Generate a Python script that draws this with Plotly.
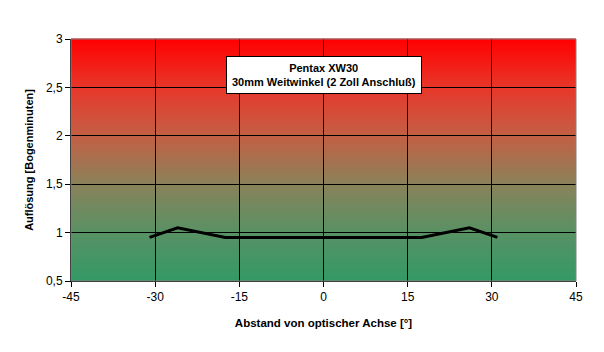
import plotly.graph_objects as go
import numpy as np

# Data
x_deg = [-31, -26, -17.5, 17.5, 26, 31]
resolution = [0.95, 1.05, 0.95, 0.95, 1.05, 0.95]
x_ticks = [-45, -30, -15, 0, 15, 30, 45]
x_ticktext = ["-45", "-30", "-15", "0", "15", "30", "45"]
y_ticks = [0.5, 1, 1.5, 2, 2.5, 3]
y_ticktext = ["0,5", "1", "1,5", "2", "2,5", "3"]

title_lines = ["Pentax XW30", "30mm Weitwinkel (2 Zoll Anschluß)"]
x_title = "Abstand von optischer Achse [°]"
y_title = "Auflösung [Bogenminuten]"

# background gradient stops (style): fraction from bottom -> rgb
stops = [
    (0.0, (51, 153, 102)),
    (0.2, (88, 145, 100)),
    (0.4, (138, 130, 90)),
    (0.6, (195, 95, 68)),
    (0.8, (232, 55, 42)),
    (1.0, (255, 0, 0)),
]

def grad_color(f):
    for (f0, c0), (f1, c1) in zip(stops[:-1], stops[1:]):
        if f0 <= f <= f1:
            t = (f - f0) / (f1 - f0)
            return "rgb(%d,%d,%d)" % tuple(round(a + (b - a) * t) for a, b in zip(c0, c1))
    return "rgb(%d,%d,%d)" % stops[-1][1]

fig = go.Figure()

n_strips = 121
for i in range(n_strips):
    y0 = i / n_strips
    y1 = (i + 1) / n_strips
    fig.add_shape(type="rect", xref="paper", yref="paper", x0=0, x1=1, y0=y0, y1=y1 + 0.002,
                  fillcolor=grad_color((y0 + y1) / 2), line=dict(width=0), layer="below")

fig.add_trace(go.Scatter(
    x=x_deg, y=resolution, mode="lines",
    line=dict(color="black", width=3), showlegend=False, hoverinfo="skip",
))

fig.add_shape(type="rect", xref="paper", yref="paper", x0=0, y0=0, x1=1, y1=1,
              line=dict(color="#808080", width=1), layer="above")

fig.add_annotation(
    x=0, y=2.63, xref="x", yref="y",
    text="<b>" + title_lines[0] + "<br>" + title_lines[1] + "</b>",
    showarrow=False, bgcolor="white", bordercolor="black", borderwidth=1,
    borderpad=5, font=dict(family="Liberation Sans, Arial", size=11, color="black"),
)

fig.update_layout(
    width=604, height=352,
    margin=dict(l=71, r=28, t=39, b=71),
    paper_bgcolor="white", plot_bgcolor="white",
    font=dict(family="Liberation Sans, Arial", size=11, color="black"),
    showlegend=False,
)
fig.update_xaxes(
    range=[-45, 45], tickvals=x_ticks, ticktext=x_ticktext, showgrid=True,
    gridcolor="black", gridwidth=1,
    showline=True, linecolor="black", linewidth=1, ticks="outside", ticklen=5,
    tickcolor="black", zeroline=False, tickfont=dict(size=12),
    title=dict(text="<b>" + x_title + "</b>", font=dict(size=11.5), standoff=15),
)
fig.update_yaxes(
    range=[0.5, 3], tickvals=y_ticks, ticktext=y_ticktext, showgrid=True,
    gridcolor="black", gridwidth=1,
    showline=True, linecolor="black", linewidth=1, ticks="outside", ticklen=5,
    tickcolor="black", zeroline=False, tickfont=dict(size=12),
    title=dict(text="<b>" + y_title + "</b>", font=dict(size=11), standoff=10),
)

fig.write_html("out.html")
